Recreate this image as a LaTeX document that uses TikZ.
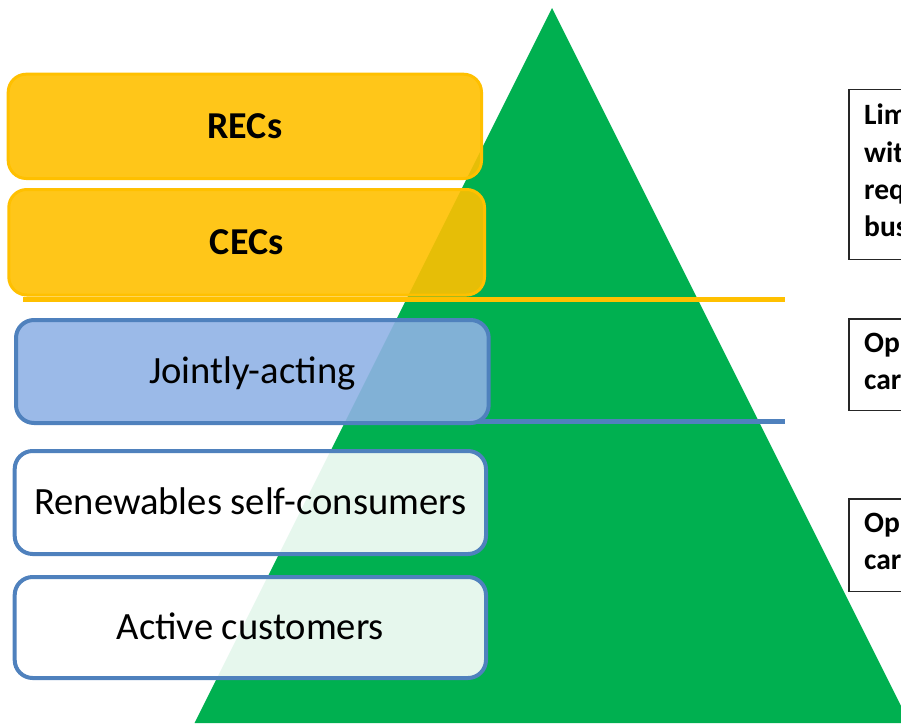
\documentclass[tikz,border=0pt]{standalone}
\usepackage{fontspec}
\setmainfont{Carlito}
\definecolor{pgreen}{HTML}{00B050}
\definecolor{pyellow}{HTML}{FFC000}
\definecolor{pblue}{HTML}{4F81BD}
\definecolor{pbluefill}{RGB}{144,178,229}
\definecolor{pframe}{HTML}{262626}
\begin{document}
\begin{tikzpicture}[x=1pt,y=-1pt,
  lbox/.style={rounded corners=18pt, fill opacity=0.9, text opacity=1,
    inner sep=0pt, text height=24pt, text depth=0pt,
    font=\fontsize{38.6}{46}\selectfont},
  ybox/.style={lbox, draw=pyellow, line width=3pt, fill=pyellow, font=\fontsize{38}{46}\selectfont\bfseries},
  bbox/.style={lbox, draw=pblue, line width=4pt},
  rtext/.style={anchor=base west, inner sep=0pt, font=\fontsize{29.5}{35}\selectfont\bfseries},
  rframe/.style={draw=pframe, line width=1.5pt, fill=white}
]
\useasboundingbox (0,0) rectangle (901,723);
\clip (0,0) rectangle (901,723);
% pyramid
\fill[pgreen] (552,8) -- (194.5,723) -- (909.5,723) -- cycle;
% separator lines
\coordinate (yl0) at (23,299.5);
\coordinate (yl1) at (785,299.5);
\coordinate (bl0) at (470,421.8);
\coordinate (bl1) at (785,421.8);
\draw[pyellow, line width=5pt] (yl0) -- (yl1);
\draw[pblue, line width=5pt] (bl0) -- (bl1);
% left boxes
\node[ybox, minimum width=473.3pt, minimum height=104.3pt] (recs) at (244.85,126.35) {RECs};
\node[ybox, minimum width=475.7pt, minimum height=105.5pt] (cecs) at (246.65,242.25) {CECs};
\node[bbox, fill=pbluefill, minimum width=472.7pt, minimum height=103pt] (joint) at (252.35,371.5) {Jointly-acting};
\node[bbox, fill=white, minimum width=471.3pt, minimum height=103pt] (renew) at (250.35,502.5) {Renewables self-consumers};
\node[bbox, fill=white, minimum width=471.3pt, minimum height=101pt] (active) at (250.35,627.5) {Active customers};
% right boxes (cut off by the picture edge)
\draw[rframe] (849,89.5) rectangle (960,259.5);
\draw[rframe] (849,319) rectangle (960,410.5);
\draw[rframe] (849,499) rectangle (960,591.5);
\node[rtext] (t1a) at (864,124.8) {Lim};
\node[rtext] (t1b) at (864,162.0) {wit};
\node[rtext] (t1c) at (864,199.2) {req};
\node[rtext] (t1d) at (864,236.4) {bus};
\node[rtext] (t2a) at (864,352.0) {Op};
\node[rtext] (t2b) at (864,389.3) {car};
\node[rtext] (t3a) at (864,532.4) {Op};
\node[rtext] (t3b) at (864,569.7) {car};
\end{tikzpicture}
\end{document}
